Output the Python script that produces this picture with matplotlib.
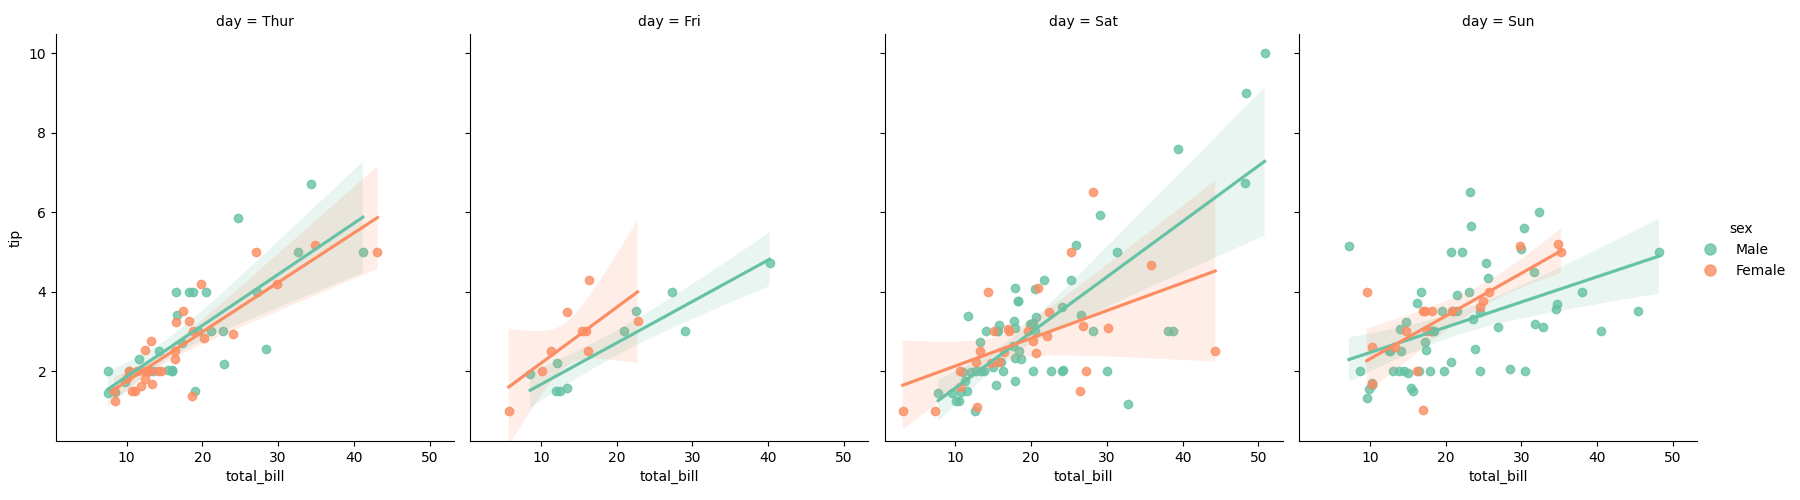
import numpy as np
import matplotlib
matplotlib.use('Agg')
import matplotlib.pyplot as plt
from matplotlib.lines import Line2D

# tips by day and sex (total_bill, tip)
thur_male_bill = [27.20, 22.76, 17.29, 19.44, 16.66, 32.68, 15.98, 13.03, 18.28, 24.71,
                  21.16, 11.69, 14.26, 15.95, 8.52, 22.82, 19.08, 16.00, 34.30, 41.19,
                  9.78, 7.51, 28.44, 15.48, 16.58, 7.56, 10.34, 13.51, 18.71, 20.53]
thur_male_tip = [4.00, 3.00, 2.71, 3.00, 3.40, 5.00, 2.03, 2.00, 4.00, 5.85,
                 3.00, 2.31, 2.50, 2.00, 1.48, 2.18, 1.50, 2.00, 6.70, 5.00,
                 1.73, 2.00, 2.56, 2.02, 4.00, 1.44, 2.00, 2.00, 4.00, 4.00]
thur_female_bill = [10.07, 34.83, 10.65, 12.43, 24.08, 13.42, 12.48, 29.80, 14.52, 11.38,
                    20.27, 11.17, 12.26, 18.26, 8.51, 10.33, 14.15, 13.16, 17.47, 27.05,
                    16.43, 8.35, 18.64, 11.87, 19.81, 43.11, 13.00, 12.74, 13.00, 16.40,
                    16.47, 18.78]
thur_female_tip = [1.83, 5.17, 1.50, 1.80, 2.92, 1.68, 2.52, 4.20, 2.00, 2.00,
                   2.83, 1.50, 2.00, 3.25, 1.25, 2.00, 2.00, 2.75, 3.50, 5.00,
                   2.30, 1.50, 1.36, 1.63, 4.19, 5.00, 2.00, 2.01, 2.00, 2.50,
                   3.23, 3.00]

fri_male_bill = [28.97, 22.49, 40.17, 27.28, 12.03, 21.01, 12.46, 12.16, 8.58, 13.42]
fri_male_tip = [3.00, 3.50, 4.73, 4.00, 1.50, 3.00, 1.50, 2.20, 1.92, 1.58]
fri_female_bill = [5.75, 16.32, 22.75, 11.35, 15.38, 13.42, 15.98, 16.27, 10.09]
fri_female_tip = [1.00, 4.30, 3.25, 2.50, 3.00, 3.48, 3.00, 2.50, 2.00]

sat_male_bill = [20.65, 17.92, 39.42, 19.82, 17.81, 13.37, 12.69, 21.70, 9.55, 18.35,
                 17.78, 24.06, 16.31, 18.69, 31.27, 16.04, 38.01, 11.24, 48.27, 20.29,
                 13.81, 11.02, 18.29, 17.59, 20.08, 20.23, 15.01, 12.02, 10.51, 17.92,
                 15.36, 20.49, 25.21, 18.24, 14.00, 50.81, 15.81, 26.59, 38.73, 24.27,
                 30.06, 25.89, 48.33, 28.15, 11.59, 7.74, 20.45, 13.28, 24.01, 15.69,
                 11.61, 10.77, 15.53, 10.07, 12.60, 32.83, 29.03, 22.67, 17.82]
sat_male_tip = [3.35, 4.08, 7.58, 3.18, 2.34, 2.00, 2.00, 4.30, 1.45, 2.50,
                3.27, 3.60, 2.00, 2.31, 5.00, 2.24, 3.00, 1.76, 6.73, 3.21,
                2.00, 1.98, 3.76, 2.64, 3.15, 2.01, 2.09, 1.97, 1.25, 3.08,
                1.64, 4.06, 4.29, 3.76, 3.00, 10.00, 3.16, 3.41, 3.00, 2.03,
                2.00, 5.16, 9.00, 3.00, 1.50, 1.44, 3.00, 2.72, 2.00, 3.00,
                3.39, 1.47, 3.00, 1.25, 1.00, 1.17, 5.92, 2.00, 1.75]
sat_female_bill = [20.29, 15.77, 19.65, 15.06, 20.69, 16.93, 26.41, 16.45, 3.07, 17.07,
                   26.86, 25.28, 14.73, 44.30, 22.42, 20.92, 14.31, 7.25, 10.59, 10.63,
                   12.76, 13.27, 28.17, 12.90, 30.14, 22.12, 35.83, 27.18]
sat_female_tip = [2.75, 2.23, 3.00, 3.00, 2.45, 3.07, 1.50, 2.47, 1.00, 3.00,
                  3.14, 5.00, 2.20, 2.50, 3.48, 4.08, 4.00, 1.00, 1.61, 2.00,
                  2.23, 2.50, 6.50, 1.10, 3.09, 2.88, 4.67, 2.00]

sun_male_bill = [10.34, 21.01, 23.68, 25.29, 8.77, 26.88, 15.04, 14.78, 10.27, 15.42,
                 18.43, 21.58, 16.29, 17.46, 13.94, 9.68, 30.40, 18.29, 22.23, 32.40,
                 28.55, 18.04, 12.54, 9.94, 25.56, 19.49, 38.07, 23.95, 29.93, 14.07,
                 13.13, 17.26, 24.55, 19.77, 48.17, 16.49, 21.50, 12.66, 13.81, 24.52,
                 20.76, 31.71, 7.25, 31.85, 16.82, 32.90, 17.89, 14.48, 34.63, 34.65,
                 23.33, 45.35, 23.17, 40.55, 20.69, 30.46, 23.10, 15.69]
sun_male_tip = [1.66, 3.50, 3.31, 4.71, 2.00, 3.12, 1.96, 3.23, 1.71, 1.57,
                3.00, 3.92, 3.71, 2.54, 3.06, 1.32, 5.60, 3.00, 5.00, 6.00,
                2.05, 3.00, 2.50, 1.56, 4.34, 3.51, 4.00, 2.55, 5.07, 2.50,
                2.00, 2.74, 2.00, 2.00, 5.00, 2.00, 3.50, 2.50, 2.00, 3.48,
                2.24, 4.50, 5.15, 3.18, 4.00, 3.11, 2.00, 2.00, 3.55, 3.68,
                5.65, 3.50, 6.50, 3.00, 5.00, 2.00, 4.00, 1.50]
sun_female_bill = [16.99, 24.59, 35.26, 14.83, 10.33, 16.97, 10.29, 34.81, 25.71, 17.31,
                   29.85, 25.00, 13.39, 16.21, 17.51, 9.60, 20.90, 18.15]
sun_female_tip = [1.01, 3.61, 5.00, 3.02, 1.67, 3.50, 2.60, 5.20, 4.00, 3.50,
                  5.14, 3.75, 2.61, 2.00, 3.00, 4.00, 3.50, 3.50]

days = ['Thur', 'Fri', 'Sat', 'Sun']
sexes = ['Male', 'Female']
colors = {'Male': '#66c2a5', 'Female': '#fc8d62'}

data = {
    ('Thur', 'Male'): (thur_male_bill, thur_male_tip),
    ('Thur', 'Female'): (thur_female_bill, thur_female_tip),
    ('Fri', 'Male'): (fri_male_bill, fri_male_tip),
    ('Fri', 'Female'): (fri_female_bill, fri_female_tip),
    ('Sat', 'Male'): (sat_male_bill, sat_male_tip),
    ('Sat', 'Female'): (sat_female_bill, sat_female_tip),
    ('Sun', 'Male'): (sun_male_bill, sun_male_tip),
    ('Sun', 'Female'): (sun_female_bill, sun_female_tip),
}


def fit_line(x, y):
    # OLS fit with a heteroscedasticity-robust (HC3) 95% band
    x = np.asarray(x)
    y = np.asarray(y)
    X = np.column_stack([np.ones_like(x), x])
    XtX_inv = np.linalg.inv(X.T @ X)
    beta = XtX_inv @ X.T @ y
    resid = y - X @ beta
    h = np.einsum('ij,jk,ik->i', X, XtX_inv, X)
    w = resid ** 2 / (1 - h) ** 2
    V = XtX_inv @ (X.T * w) @ X @ XtX_inv
    grid = np.linspace(x.min(), x.max(), 100)
    G = np.column_stack([np.ones_like(grid), grid])
    yhat = G @ beta
    se = np.sqrt(np.einsum('ij,jk,ik->i', G, V, G))
    return grid, yhat, yhat - 1.96 * se, yhat + 1.96 * se


fig, axes = plt.subplots(1, 4, figsize=(18, 5), sharex=True, sharey=True)
fig.subplots_adjust(left=0.0311, right=0.9428, top=0.932, bottom=0.118, wspace=0.0415)

for ax, day in zip(axes, days):
    for sex in sexes:
        x, y = data[(day, sex)]
        col = colors[sex]
        ax.scatter(x, y, s=36, color=col, alpha=0.8, linewidths=1)
        grid, yhat, lo, hi = fit_line(x, y)
        ax.plot(grid, yhat, color=col, linewidth=2.25)
        ax.fill_between(grid, lo, hi, facecolor=col, alpha=0.15)
    ax.set_title(f'day = {day}', fontsize=10)
    ax.set_xlabel('total_bill')
    ax.spines['top'].set_visible(False)
    ax.spines['right'].set_visible(False)

axes[0].set_ylabel('tip')
axes[0].set_xlim(0.68, 53.2)
axes[0].set_ylim(0.24, 10.48)
axes[0].set_xticks([10, 20, 30, 40, 50])
axes[0].set_yticks([2, 4, 6, 8, 10])

handles = [Line2D([], [], marker='o', linestyle='', markersize=8, color=colors[s], alpha=0.8)
           for s in sexes]
fig.legend(handles, sexes, title='sex', loc='center left', bbox_to_anchor=(0.9355, 0.5),
           frameon=False)

plt.savefig('out.png', dpi=100)
